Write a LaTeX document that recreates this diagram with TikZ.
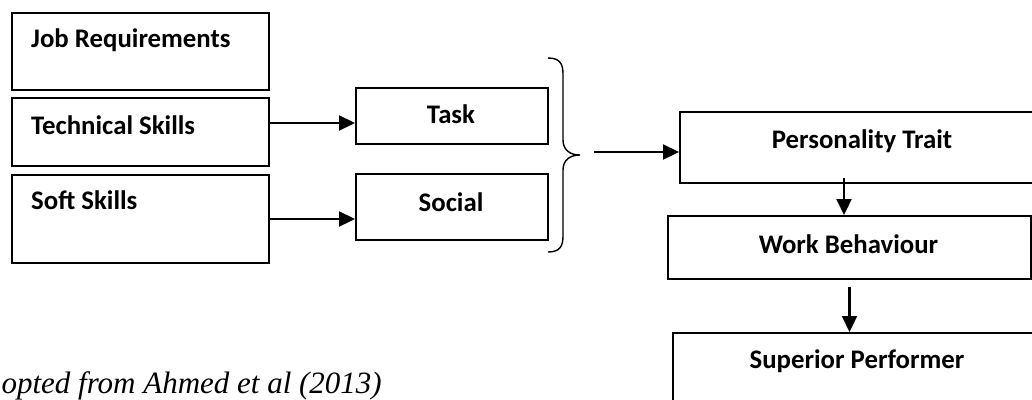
\documentclass[tikz,border=0pt]{standalone}
\usepackage{fontspec}
\setmainfont{Carlito}
\newfontfamily\capfont{Liberation Serif}
\usetikzlibrary{arrows.meta}
\tikzset{
  box/.style={draw, line width=2pt, rectangle, inner sep=0pt, anchor=north west},
  lbl/.style={font=\fontsize{26.8}{32}\selectfont\bfseries, inner sep=0pt},
  arr/.style={draw, line width=2.2pt, -{Triangle[length=16pt,width=15pt]}},
  bracestyle/.style={draw, line width=1.4pt},
}
\begin{document}
\begin{tikzpicture}[x=1pt,y=-1pt]
\useasboundingbox (0,0) rectangle (1032,399);
\clip (0,0) rectangle (1032,399);
% boxes
\node[box, minimum width=257pt, minimum height=77pt] (job) at (11,12) {};
\node[box, minimum width=257pt, minimum height=68pt] (tech) at (11,97) {};
\node[box, minimum width=257pt, minimum height=88pt] (soft) at (11,174) {};
\node[box, minimum width=192pt, minimum height=56pt] (task) at (355,87) {};
\node[box, minimum width=192pt, minimum height=66pt] (social) at (355,173) {};
\node[box, minimum width=366pt, minimum height=71pt] (pt) at (679,111) {};
\node[box, minimum width=363pt, minimum height=63pt] (wb) at (667,215) {};
\node[box, minimum width=370pt, minimum height=88pt] (sp) at (672,332) {};
% texts
\node[lbl, anchor=base west] (tjob) at (31,47) {Job Requirements};
\node[lbl, anchor=base west] (ttech) at (31,134) {Technical Skills};
\node[lbl, anchor=base west] (tsoft) at (31,209) {Soft Skills};
\node[lbl, anchor=base] (ttask) at (451,123) {Task};
\node[lbl, anchor=base] (tsocial) at (451,211) {Social};
\node[lbl, anchor=base] (tpt) at (862,148) {Personality Trait};
\node[lbl, anchor=base] (twb) at (848.5,253) {Work Behaviour};
\node[lbl, anchor=base] (tsp) at (857,368) {Superior Performer};
\node[font=\capfont\itshape\fontsize{31}{36}\selectfont, inner sep=0pt, anchor=base east] (cap) at (382,393) {opted from Ahmed et al (2013)};
% brace
\draw[bracestyle] (548,58) .. controls (560,58) and (563,64) .. (563,74) -- (563,140)
  .. controls (563,150) and (570,155) .. (580,155)
  .. controls (570,155) and (563,160) .. (563,170) -- (563,236)
  .. controls (563,246) and (560,252) .. (548,252);
\coordinate (bstart) at (594,152);
% connectors
\draw[arr] ([yshift=9pt]tech.east) -- ([yshift=9pt]tech.east -| task.west);
\draw[arr] (soft.east) -- (soft.east -| social.west);
\draw[arr] (bstart) -- (bstart -| pt.west);
\draw[arr] ([xshift=-19pt,yshift=6pt]pt.south) -- ([xshift=-19pt]pt.south |- wb.north);
\draw[arr] ([yshift=-7pt]wb.south) -- (wb.south |- sp.north);
\end{tikzpicture}
\end{document}
